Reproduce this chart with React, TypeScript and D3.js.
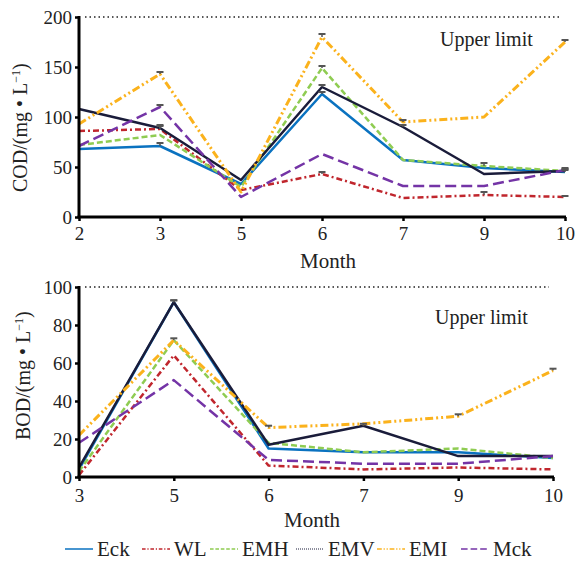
import React, { useEffect, useRef } from "react";
import * as d3 from "d3";

// months on each panel
const codMonths = ["2", "3", "5", "6", "7", "9", "10"];
const bodMonths = ["3", "5", "6", "7", "9", "10"];
const seriesNames = ["Eck", "WL", "EMH", "EMV", "EMI", "Mck"];

// COD values (mg/L)
const codEck = [68, 71, 33, 123, 57, 49, 45];
const codWL = [86, 88, 27, 43, 19, 22, 20];
const codEMH = [72, 82, 30, 149, 57, 51, 46];
const codEMV = [108, 89, 37, 130, 90, 43, 46];
const codEMI = [93, 143, 25, 180, 95, 100, 175];
const codMck = [71, 110, 20, 63, 31, 31, 47];
// COD error (upper caps)
const codEckErr = [0, 3, 0, 2, 0, 0, 2];
const codWLErr = [0, 3, 0, 2, 0, 3, 1];
const codEMHErr = [0, 0, 0, 2, 0, 3, 0];
const codEMVErr = [0, 3, 0, 2, 2, 0, 2];
const codEMIErr = [0, 2, 0, 3, 2, 0, 2];
const codMckErr = [0, 2, 0, 0, 0, 0, 2];

// BOD values (mg/L)
const bodEck = [4, 92, 15, 13, 13, 10];
const bodWL = [1, 64, 6, 4, 5, 4];
const bodEMH = [3, 72, 18, 13, 15, 10];
const bodEMV = [5, 92, 17, 27, 11, 11];
const bodEMI = [22, 72, 26, 28, 32, 56];
const bodMck = [18, 51, 9, 7, 7, 11];
const bodEckErr = [0, 1, 0, 0, 0, 0];
const bodWLErr = [0, 0, 0, 0, 0, 0];
const bodEMHErr = [0, 1, 0, 0, 0, 0];
const bodEMVErr = [0, 1, 0, 1, 0, 0];
const bodEMIErr = [0, 0, 1, 0, 1, 1];
const bodMckErr = [0, 0, 0, 0, 0, 0];

const codTicks = [0, 50, 100, 150, 200];
const bodTicks = [0, 20, 40, 60, 80, 100];

const styles = [
  { color: "#0a72c0", dash: null, width: 2.5 },
  { color: "#c0262d", dash: "6,3,2,3", width: 2.5 },
  { color: "#8fcc52", dash: "6,3", width: 2.5 },
  { color: "#1a1c3a", dash: null, width: 2.5 },
  { color: "#fbb21c", dash: "8,3,2,3,2,3", width: 3 },
  { color: "#7434a6", dash: "11,5", width: 2.5 },
];

const FONT = "'Liberation Serif', 'DejaVu Serif', serif";

const App = () => {
  const ref = useRef<SVGSVGElement>(null);

  useEffect(() => {
    const svg = d3.select(ref.current);
    svg.selectAll("*").remove();

    const drawPanel = (opts: any) => {
      const { months, series, errors, ticks, max, x0, x1, y0, y1, label, tickY, monthX, monthY, labelX, labelY, limitX, limitY } = opts;
      const x = d3.scalePoint().domain(months).range([x0, x1]);
      const y = d3.scaleLinear().domain([0, max]).range([y1, y0]);
      const g = svg.append("g");

      // upper limit dotted line
      g.append("line")
        .attr("x1", x0 + 6)
        .attr("x2", x1 - 4)
        .attr("y1", y(max))
        .attr("y2", y(max))
        .attr("stroke", "#222")
        .attr("stroke-width", 1.5)
        .attr("stroke-dasharray", "1.5,3");

      g.append("text")
        .attr("x", limitX)
        .attr("y", limitY)
        .style("font-family", FONT)
        .style("font-size", "20px")
        .attr("fill", "#222")
        .text("Upper limit");

      const line = d3
        .line<number>()
        .x((d, i) => x(months[i]) as number)
        .y((d) => y(d));

      series.forEach((vals: number[], si: number) => {
        const st = styles[si];
        g.append("path")
          .datum(vals)
          .attr("fill", "none")
          .attr("stroke", st.color)
          .attr("stroke-width", st.width)
          .attr("stroke-dasharray", st.dash)
          .attr("stroke-linejoin", "round")
          .attr("d", line);
      });

      // error caps
      series.forEach((vals: number[], si: number) => {
        errors[si].forEach((e: number, i: number) => {
          if (!e) return;
          const cx = x(months[i]) as number;
          g.append("line")
            .attr("x1", cx)
            .attr("x2", cx)
            .attr("y1", y(vals[i]))
            .attr("y2", y(vals[i] + e))
            .attr("stroke", "#555")
            .attr("stroke-width", 1.5);
          g.append("line")
            .attr("x1", cx - 3.5)
            .attr("x2", cx + 3.5)
            .attr("y1", y(vals[i] + e))
            .attr("y2", y(vals[i] + e))
            .attr("stroke", "#555")
            .attr("stroke-width", 2);
        });
      });

      // axes
      const ax = g.append("g").attr("transform", `translate(0,${y1})`).call(d3.axisBottom(x).tickSize(4).tickPadding(4));
      ax.attr("font-family", null).attr("font-size", null);
      ax.select(".domain").attr("stroke-width", 3).attr("d", `M${x0 - 1.5},0H${x1 + 1}`);
      ax.selectAll(".tick line").attr("stroke-width", 2.5);
      ax.selectAll("text")
        .style("font-family", FONT)
        .style("font-size", "19px")
        .attr("fill", "#222")
        .attr("y", tickY - y1)
        .attr("dy", 0);

      const ay = g.append("g").attr("transform", `translate(${x0},0)`).call(d3.axisLeft(y).tickValues(ticks).tickSize(4).tickPadding(3));
      ay.attr("font-family", null).attr("font-size", null);
      ay.select(".domain").attr("stroke-width", 3).attr("d", `M0,${y0 - 1}V${y1}`);
      ay.selectAll(".tick line").attr("stroke-width", 2.5);
      ay.selectAll("text").style("font-family", FONT).style("font-size", "19px").attr("fill", "#222");

      g.append("text")
        .attr("x", monthX)
        .attr("y", monthY)
        .attr("text-anchor", "middle")
        .style("font-family", FONT)
        .style("font-size", "21px")
        .attr("fill", "#222")
        .text("Month");

      // y label, starts at the bottom and runs upward
      const yl = g
        .append("text")
        .attr("transform", `translate(${labelX},${labelY}) rotate(-90)`)
        .attr("text-anchor", "start")
        .style("font-family", FONT)
        .style("font-size", "20px")
        .attr("fill", "#222");
      yl.append("tspan").text(`${label}/(mg • L`);
      yl.append("tspan").style("font-size", "12px").attr("dy", -7).text("−1");
      yl.append("tspan").attr("dy", 7).text(")");
    };

    drawPanel({
      months: codMonths,
      series: [codEck, codWL, codEMH, codEMV, codEMI, codMck],
      errors: [codEckErr, codWLErr, codEMHErr, codEMVErr, codEMIErr, codMckErr],
      ticks: codTicks,
      max: 200,
      x0: 79,
      x1: 565,
      y0: 17,
      y1: 217,
      label: "COD",
      tickY: 240,
      monthX: 328,
      monthY: 268,
      labelX: 27,
      labelY: 192,
      limitX: 440,
      limitY: 46,
    });

    drawPanel({
      months: bodMonths,
      series: [bodEck, bodWL, bodEMH, bodEMV, bodEMI, bodMck],
      errors: [bodEckErr, bodWLErr, bodEMHErr, bodEMVErr, bodEMIErr, bodMckErr],
      ticks: bodTicks,
      max: 100,
      x0: 79,
      x1: 553,
      y0: 287,
      y1: 477,
      label: "BOD",
      tickY: 502,
      monthX: 312,
      monthY: 527,
      labelX: 30,
      labelY: 440,
      limitX: 435,
      limitY: 324,
    });

    // legend
    const legendX = [65, 142, 210, 296, 377, 461];
    const legendY = 549;
    const lg = svg.append("g");
    seriesNames.forEach((name, i) => {
      const st = styles[i];
      lg.append("line")
        .attr("x1", legendX[i])
        .attr("x2", legendX[i] + 28)
        .attr("y1", legendY)
        .attr("y2", legendY)
        .attr("stroke", st.color)
        .attr("stroke-width", i === 3 ? 1 : 1.5)
        .attr("stroke-dasharray", i === 3 ? "1,1" : st.dash ? st.dash.split(",").map((d) => +d * 0.6).join(",") : null);
      lg.append("text")
        .attr("x", legendX[i] + 32)
        .attr("y", legendY + 7)
        .style("font-family", FONT)
        .style("font-size", "21px")
        .attr("fill", "#222")
        .text(name);
    });
  }, []);

  return (
    <svg ref={ref} width={580} height={563} style={{ position: "absolute", left: 0, top: 0, background: "#fff", fontFamily: FONT }} />
  );
};

export default App;
